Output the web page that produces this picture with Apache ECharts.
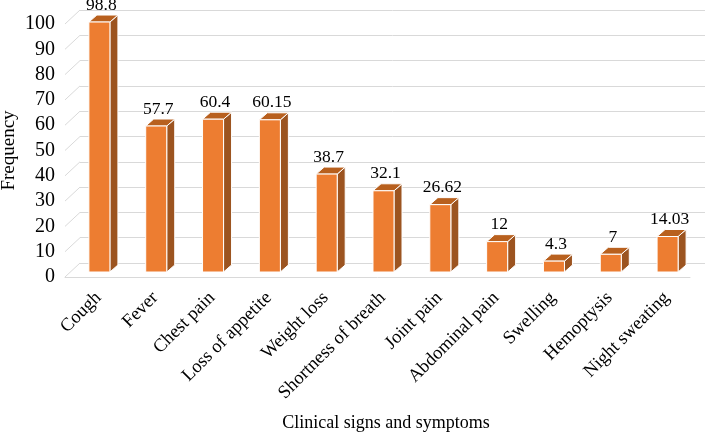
<!DOCTYPE html>
<html><head><meta charset="utf-8">
<script src="https://cdn.jsdelivr.net/npm/echarts@6/dist/echarts.min.js"></script>
<style>html,body{margin:0;padding:0;background:#fff}#c{width:709px;height:433px}</style>
</head><body><div id="c"></div>
<script>
const categories = ['Cough','Fever','Chest pain','Loss of appetite','Weight loss','Shortness of breath','Joint pain','Abdominal pain','Swelling','Hemoptysis','Night sweating'];
const values = [98.8, 57.7, 60.4, 60.15, 38.7, 32.1, 26.62, 12, 4.3, 7, 14.03];
const labelsText = ['98.8','57.7','60.4','60.15','38.7','32.1','26.62','12','4.3','7','14.03'];
const yTicks = [0,10,20,30,40,50,60,70,80,90,100];

const FONT = '"Liberation Serif","Times New Roman",serif';
const chart = echarts.init(document.getElementById('c'), null, {renderer:'canvas'});
const DX = 8, DY = -7;   // bar depth
const WX = 15, WY = -14; // wall depth

chart.setOption({
  animation:false,
  grid:[
    {left:70, right:14, top:19, bottom:161, outerBoundsMode:'none', containLabel:false},   // bars
    {left:65, right:19, top:24, bottom:156, outerBoundsMode:'none', containLabel:false},   // front plane (labels)
    {left:80, right:4, top:10, bottom:170, outerBoundsMode:'none', containLabel:false}     // back wall
  ],
  xAxis:[
    {gridIndex:0, type:'category', data:categories, axisLine:{show:false}, axisTick:{show:false},
     axisLabel:{rotate:45, margin:23, interval:0, fontFamily:FONT, fontSize:18.5, color:'#000'}},
    {gridIndex:1, type:'value', min:0, max:1, show:true, axisLine:{show:true, lineStyle:{color:'#d9d9d9', width:1}},
     axisTick:{show:false}, axisLabel:{show:false}, splitLine:{show:false},
     name:'Clinical signs and symptoms', nameLocation:'middle', nameGap:137, nameMoveOverlap:false,
     nameTextStyle:{fontFamily:FONT, fontSize:18, color:'#000', padding:[0,0,0,17]}},
    {gridIndex:2, type:'value', min:0, max:1, show:false}
  ],
  yAxis:[
    {gridIndex:0, type:'value', min:0, max:100, interval:10, show:false},
    {gridIndex:1, type:'value', min:0, max:100, interval:10, axisLine:{show:false}, axisTick:{show:false},
     splitLine:{show:false},
     axisLabel:{margin:10, fontFamily:FONT, fontSize:20, color:'#000',
       formatter:(v)=> yTicks.includes(v) ? String(v) : ''},
     name:'Frequency', nameLocation:'middle', nameGap:46, nameRotate:90, nameMoveOverlap:false,
     nameTextStyle:{fontFamily:FONT, fontSize:19, color:'#000'}},
    {gridIndex:2, type:'value', min:0, max:100, interval:10, axisLine:{show:false}, axisTick:{show:false},
     axisLabel:{show:false}, splitLine:{show:true, lineStyle:{color:'#d9d9d9', width:1}}}
  ],
  series:[
    {
      type:'custom', xAxisIndex:1, yAxisIndex:1, silent:true,
      data: yTicks.map(v=>[0,v]),
      renderItem:(params, api)=>{
        const p = api.coord([0, api.value(1)]);
        return {type:'line', shape:{x1:p[0], y1:p[1], x2:p[0]+WX, y2:p[1]+WY},
                style:{stroke:'#d9d9d9', lineWidth:1}};
      }
    },
    {
      type:'custom', xAxisIndex:0, yAxisIndex:0,
      data: values.map((v,i)=>[i, v]),
      renderItem:(params, api)=>{
        const i = api.value(0), v = api.value(1);
        const top = api.coord([i, v]);
        const base = api.coord([i, 0]);
        const band = api.size([1, 0])[0];
        const w = band * 0.37;
        const xl = top[0] - w/2 + 1, xr = xl + w;
        const yt = top[1], yb = base[1];
        return {type:'group', children:[
          {type:'polygon', shape:{points:[[xr,yt],[xr+DX,yt+DY],[xr+DX,yb+DY],[xr,yb]]},
           style:{fill:'#9C5420', stroke:'#ffffff', lineWidth:1}},
          {type:'polygon', shape:{points:[[xl,yt],[xl+DX,yt+DY],[xr+DX,yt+DY],[xr,yt]]},
           style:{fill:'#B8601E', stroke:'#ffffff', lineWidth:1}},
          {type:'rect', shape:{x:xl, y:yt, width:w, height:yb-yt},
           style:{fill:'#ED7D31', stroke:'#ffffff', lineWidth:1}},
          {type:'text', x:(xl+xr)/2 + 2, y:yt+DY-1,
           style:{text:labelsText[i], fontFamily:FONT, fontSize:17.5, fill:'#000',
                  textAlign:'center', textVerticalAlign:'bottom'}}
        ]};
      }
    }
  ]
});
</script></body></html>
